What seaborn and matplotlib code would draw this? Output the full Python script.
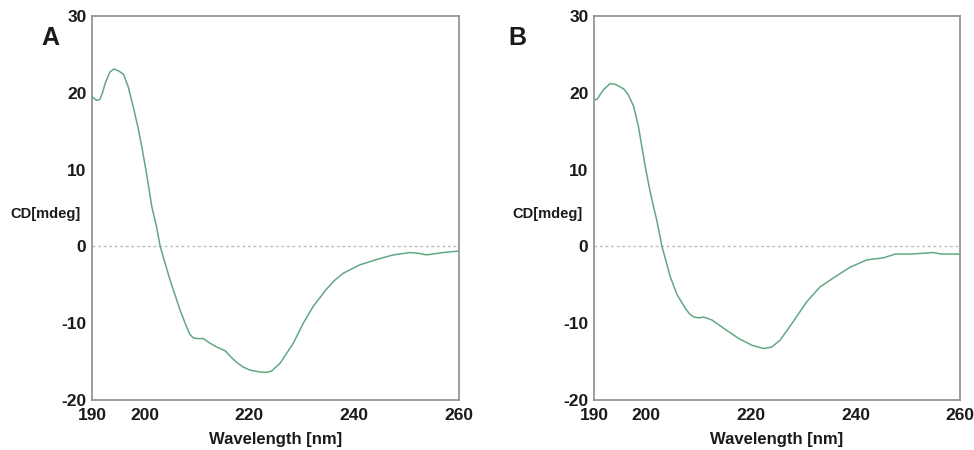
import numpy as np
import pandas as pd
import matplotlib
matplotlib.use("Agg")
import matplotlib.pyplot as plt
import seaborn as sns
from matplotlib.ticker import MultipleLocator

# wavelength [nm] and CD [mdeg]
wl_a = [190.0, 190.9, 191.5, 192.0, 192.5, 193.4, 194.2, 195.2, 196.0, 196.9,
        198.0, 198.8, 199.6, 200.4, 201.4, 202.3, 203.0, 204.9, 206.8, 208.0,
        208.7, 209.3, 210.0, 211.2, 212.5, 213.8, 215.4, 216.5, 217.6, 218.8,
        220.1, 222.0, 223.4, 224.3, 225.9, 228.4, 230.3, 232.2, 234.8, 236.3,
        237.9, 241.1, 244.3, 247.5, 250.7, 252.3, 253.8, 257.0, 260.0]
cd_a = [19.5, 19.0, 19.15, 20.0, 21.2, 22.7, 23.1, 22.8, 22.4, 20.8,
        17.8, 15.4, 12.6, 9.5, 5.2, 2.6, 0.0, -4.4, -8.3, -10.4,
        -11.5, -11.9, -12.0, -12.0, -12.6, -13.1, -13.6, -14.4, -15.1, -15.7,
        -16.1, -16.35, -16.4, -16.2, -15.2, -12.6, -10.0, -7.8, -5.5, -4.4,
        -3.5, -2.4, -1.7, -1.1, -0.8, -0.9, -1.1, -0.8, -0.6]

wl_b = [190.0, 190.6, 191.2, 191.8, 193.1, 194.1, 195.7, 196.6, 197.6, 198.5,
        199.8, 200.8, 202.0, 203.0, 204.6, 205.9, 207.5, 208.3, 209.1, 210.0,
        211.0, 212.6, 215.1, 217.7, 220.3, 222.5, 224.0, 225.6, 228.1, 230.7,
        233.2, 235.8, 239.0, 242.2, 245.3, 247.6, 250.5, 253.6, 254.9, 256.5,
        260.0]
cd_b = [19.06, 19.15, 19.8, 20.4, 21.2, 21.1, 20.5, 19.7, 18.2, 15.6,
        10.4, 6.9, 3.4, 0.0, -4.0, -6.3, -8.1, -8.8, -9.2, -9.3,
        -9.2, -9.6, -10.8, -12.0, -12.9, -13.3, -13.1, -12.2, -9.8, -7.2,
        -5.3, -4.1, -2.7, -1.75, -1.5, -1.0, -1.0, -0.87, -0.8, -1.0,
        -1.0]

panels = ["A", "B"]
xticks = [190, 200, 220, 240, 260]
yticks = [-20, -10, 0, 10, 20, 30]

sns.set_style("white")
plt.rcParams["font.family"] = ["Liberation Sans", "DejaVu Sans"]
plt.rcParams["axes.unicode_minus"] = False

line_color = "#62a882"
spine_color = "#8c8c8c"
text_color = "#1a1a1a"

fig = plt.figure(figsize=(9.74, 4.5), dpi=100)
W, H = 974, 450
boxes = [(92, 16, 367, 384), (594, 16, 366, 384)]
letter_x = [-0.114, -0.21]

for (x0, y0, w, h), name, lx, wl, cd in zip(boxes, panels, letter_x,
                                            [wl_a, wl_b], [cd_a, cd_b]):
    ax = fig.add_axes([x0 / W, 1 - (y0 + h) / H, w / W, h / H])
    df = pd.DataFrame({"Wavelength": wl, "CD": cd})
    ax.axhline(0, color="#bdbdbd", lw=1.0, ls=(0, (2, 2)), zorder=1)
    sns.lineplot(data=df, x="Wavelength", y="CD", ax=ax, color=line_color,
                 lw=1.1, zorder=3)
    ax.set_xlim(190, 260)
    ax.set_ylim(-20, 30)
    ax.set_xticks(xticks)
    ax.set_yticks(yticks)
    ax.xaxis.set_minor_locator(MultipleLocator(10))
    ax.yaxis.set_minor_locator(MultipleLocator(5))
    ax.tick_params(axis="both", which="both", direction="in",
                   color=spine_color, top=False, right=False)
    ax.tick_params(which="major", length=4, width=1, labelsize=12.5)
    ax.tick_params(which="minor", length=3, width=1)
    ax.tick_params(axis="x", which="major", pad=6)
    ax.tick_params(axis="y", which="major", pad=4)
    for lab in ax.get_xticklabels() + ax.get_yticklabels():
        lab.set_fontweight("bold")
        lab.set_color(text_color)
    for sp in ax.spines.values():
        sp.set_color(spine_color)
        sp.set_linewidth(1.2)
    ax.set_xlabel("Wavelength [nm]", fontsize=12, fontweight="bold",
                  color=text_color, labelpad=6)
    ax.set_ylabel("")
    ax.text(-0.032, 0.485, "CD[mdeg]", transform=ax.transAxes, ha="right",
            va="center", fontsize=10.5, fontweight="bold", color=text_color)
    ax.text(lx, 0.943, name, transform=ax.transAxes, ha="center",
            va="center", fontsize=18, fontweight="bold", color=text_color)

fig.savefig("out.png", dpi=100)
